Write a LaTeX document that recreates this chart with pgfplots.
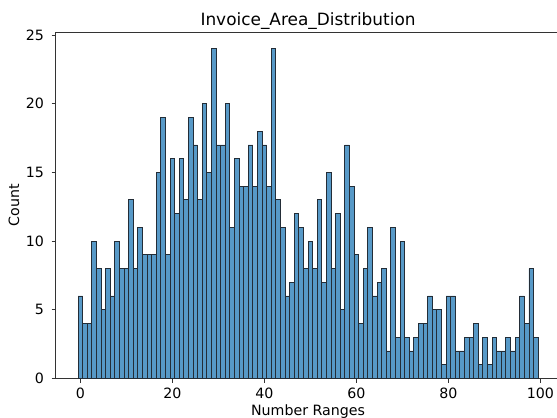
\documentclass[border=0pt]{standalone}
\usepackage{pgfplots}
\pgfplotsset{compat=1.18}
\usepackage{fontspec}
\setmainfont{DejaVu Sans}
\definecolor{barfill}{HTML}{5799C7}
\definecolor{baredge}{RGB}{35,45,55}
\begin{document}
\begin{tikzpicture}
\begin{axis}[
  scale only axis,
  width=417.2pt, height=286.4pt,
  xmin=-5.3, xmax=104.3, ymin=0, ymax=25.2,
  ybar, bar width=1,
  xtick={0,20,40,60,80,100},
  ytick={0,5,10,15,20,25},
  tick pos=left, tick align=outside,
  major tick length=3.5pt,
  every tick/.style={black!80, line width=0.8pt},
  axis line style={black!80, line width=0.8pt},
  /pgf/number format/assume math mode=true,
  ticklabel style={font=\fontsize{11.75}{14}\selectfont, inner sep=0pt},
  xticklabel style={anchor=base, yshift=-13pt},
  yticklabel style={anchor=east, xshift=-6.2pt},
  label style={font=\fontsize{11.75}{14}\selectfont},
  every axis title/.style={font=\fontsize{14}{16}\selectfont, at={(axis description cs:0.5,1)}, anchor=base, yshift=5.2pt},
  xlabel style={at={(axis description cs:0.5,-0.1072)}, anchor=base},
  ylabel style={at={(axis description cs:-0.0729,0.5)}, anchor=base},
  title={Invoice\_Area\_Distribution},
  xlabel={Number Ranges},
  ylabel={Count},
]
\addplot[fill=barfill, draw=baredge, line width=0.6pt] coordinates {
(0,6)(1,4)(2,4)(3,10)(4,8)(5,5)(6,8)(7,6)(8,10)(9,8)
(10,8)(11,13)(12,8)(13,11)(14,9)(15,9)(16,9)(17,15)(18,19)(19,9)
(20,16)(21,12)(22,16)(23,13)(24,19)(25,17)(26,13)(27,20)(28,15)(29,24)
(30,17)(31,17)(32,20)(33,11)(34,16)(35,14)(36,14)(37,17)(38,14)(39,18)
(40,17)(41,14)(42,24)(43,13)(44,11)(45,6)(46,7)(47,12)(48,11)(49,8)
(50,10)(51,8)(52,13)(53,7)(54,15)(55,8)(56,12)(57,5)(58,17)(59,14)
(60,9)(61,4)(62,8)(63,11)(64,6)(65,7)(66,8)(67,2)(68,11)(69,3)
(70,10)(71,3)(72,2)(73,3)(74,4)(75,4)(76,6)(77,5)(78,5)(79,1)
(80,6)(81,6)(82,2)(83,2)(84,3)(85,3)(86,4)(87,1)(88,3)(89,1)
(90,3)(91,2)(92,2)(93,3)(94,2)(95,3)(96,6)(97,4)(98,8)(99,3)
};
\coordinate (sw) at (rel axis cs:0,0);
\end{axis}
\pgfresetboundingbox
\useasboundingbox ([xshift=-46.3pt,yshift=-32.0pt]sw) rectangle ([xshift=414.6pt,yshift=313.1pt]sw);
\end{tikzpicture}
\end{document}
